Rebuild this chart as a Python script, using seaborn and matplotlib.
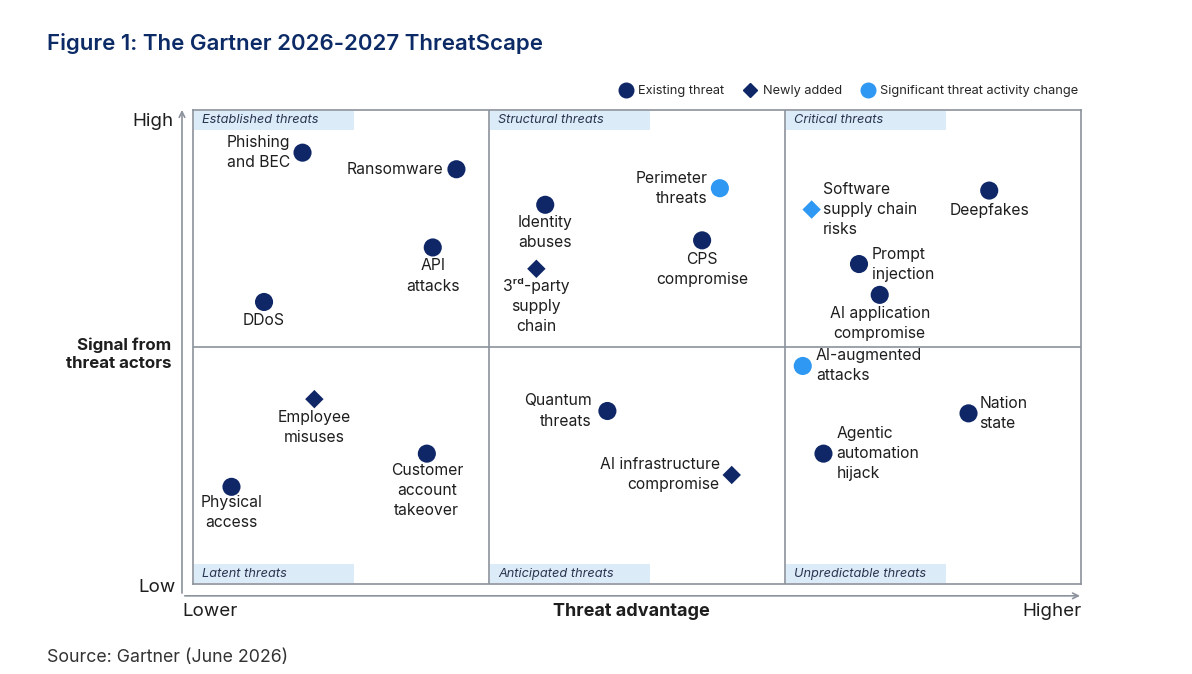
import numpy as np
import pandas as pd
import matplotlib
matplotlib.use("Agg")
import matplotlib.pyplot as plt
from matplotlib.lines import Line2D
from matplotlib.patches import Rectangle
import seaborn as sns

# data (x: threat advantage 0-3, y: signal 0-2)
threats = ["Phishing\nand BEC", "Ransomware", "API\nattacks", "DDoS",
           "Identity\nabuses", "3ʳᵈ-party\nsupply\nchain", "Perimeter\nthreats",
           "CPS\ncompromise", "Software\nsupply chain\nrisks", "Deepfakes",
           "Prompt\ninjection", "AI application\ncompromise", "Employee\nmisuses",
           "Customer\naccount\ntakeover", "Physical\naccess", "Quantum\nthreats",
           "AI infrastructure\ncompromise", "AI-augmented\nattacks", "Nation\nstate",
           "Agentic\nautomation\nhijack"]
threat_advantage = [0.37, 0.89, 0.81, 0.24, 1.19, 1.16, 1.78, 1.72, 2.09, 2.69,
                    2.25, 2.32, 0.41, 0.79, 0.13, 1.40, 1.82, 2.06, 2.62, 2.13]
signal = [1.82, 1.75, 1.42, 1.19, 1.60, 1.33, 1.67, 1.45, 1.58, 1.66,
          1.35, 1.22, 0.78, 0.55, 0.41, 0.73, 0.46, 0.92, 0.72, 0.55]
status = ["Existing threat"] * 5 + ["Newly added"] + ["Existing threat"] * 2 + \
         ["Newly added"] + ["Existing threat"] * 3 + ["Newly added"] + \
         ["Existing threat"] * 3 + ["Newly added"] + ["Existing threat"] * 3
activity = ["Stable"] * 6 + ["Significant threat activity change"] + ["Stable"] + \
           ["Significant threat activity change"] + ["Stable"] * 8 + \
           ["Significant threat activity change"] + ["Stable"] * 2

quadrants_top = ["Established threats", "Structural threats", "Critical threats"]
quadrants_bottom = ["Latent threats", "Anticipated threats", "Unpredictable threats"]

# label placement (offset in px, ha, va)
label_pos = [(-12, 0, "right", "center"), (-13, 0, "right", "center"),
             (0, -11, "center", "top"), (0, -11, "center", "top"),
             (0, -10, "center", "top"), (0, -9, "center", "top"),
             (-12, 0, "right", "center"), (0, -12, "center", "top"),
             (11, 0, "left", "center"), (0, -12, "center", "top"),
             (13, 0, "left", "center"), (0, -11, "center", "top"),
             (0, -11, "center", "top"), (0, -9, "center", "top"),
             (0, -8, "center", "top"), (-16, 0, "right", "center"),
             (-12, 0, "right", "center"), (13, 0, "left", "center"),
             (11, 0, "left", "center"), (13, 0, "left", "center")]

navy = "#0f2767"
light = "#2f98f2"
grid_col = "#8c929c"
band_col = "#dcebf8"
txt = "#1e1e1e"

df = pd.DataFrame({"threat": threats, "x": threat_advantage, "y": signal,
                   "status": status, "activity": activity})

sns.set_style("white")
plt.rcParams["font.family"] = ["Inter", "DejaVu Sans"]

fig = plt.figure(figsize=(11.92, 6.74), dpi=100)
W, H = 1192, 674
ax = fig.add_axes([193 / W, (H - 584) / H, 888 / W, 474 / H])

sns.scatterplot(data=df, x="x", y="y", hue="activity", style="status", size="status",
                palette={"Stable": navy, "Significant threat activity change": light},
                markers={"Existing threat": "o", "Newly added": "D"},
                sizes={"Existing threat": 170, "Newly added": 88},
                edgecolor="none", legend=False, ax=ax, zorder=3)

ax.set_xlim(0, 3)
ax.set_ylim(0, 2)
ax.set_xticks([])
ax.set_yticks([])
ax.set_xlabel("")
ax.set_ylabel("")
for sp in ax.spines.values():
    sp.set_color(grid_col)
    sp.set_linewidth(1.2)
for xv in [1, 2]:
    ax.axvline(xv, color=grid_col, lw=1.2, zorder=1)
ax.axhline(1, color=grid_col, lw=1.2, zorder=1)

# quadrant tags
bw, bh = 0.54, 0.084
for i, (t, b) in enumerate(zip(quadrants_top, quadrants_bottom)):
    ax.add_patch(Rectangle((i + 0.005, 2 - bh), bw, bh - 0.004, color=band_col, lw=0, zorder=0))
    ax.text(i + 0.03, 2 - bh / 2, t, style="italic", fontsize=9.2, color="#2a3550",
            ha="left", va="center")
    ax.add_patch(Rectangle((i + 0.005, 0.004), bw, bh - 0.004, color=band_col, lw=0, zorder=0))
    ax.text(i + 0.03, bh / 2, b, style="italic", fontsize=9.2, color="#2a3550",
            ha="left", va="center")

# point labels
for (name, xv, yv), (dx, dy, ha, va) in zip(zip(threats, threat_advantage, signal), label_pos):
    ax.annotate(name, (xv, yv), xytext=(dx * 0.72, dy * 0.72), textcoords="offset points",
                ha=ha, va=va, multialignment="center" if ha == "center" else ha,
                fontsize=11.3, color=txt, linespacing=1.42, zorder=4)

# axis arrows
ax.annotate("", xy=(-0.0124, 1.006), xytext=(-0.0124, -0.025), xycoords="axes fraction",
            arrowprops=dict(arrowstyle="->", color=grid_col, lw=1.2), annotation_clip=False)
ax.annotate("", xy=(1.002, -0.025), xytext=(-0.0124, -0.025), xycoords="axes fraction",
            arrowprops=dict(arrowstyle="->", color=grid_col, lw=1.2), annotation_clip=False)

fig.text(174 / W, 1 - 121 / H, "High", ha="right", va="center", fontsize=13.5, color=txt)
fig.text(176 / W, 1 - 587 / H, "Low", ha="right", va="center", fontsize=13.5, color=txt)
fig.text(171 / W, 1 - 354 / H, "Signal from\nthreat actors", ha="right", va="center",
         fontsize=12.2, fontweight="bold", color=txt, linespacing=1.25)
fig.text(182 / W, 1 - 612 / H, "Lower", ha="left", va="center", fontsize=13.5, color=txt)
fig.text(631 / W, 1 - 612 / H, "Threat advantage", ha="center", va="center", fontsize=13,
         fontweight="bold", color=txt)
fig.text(1082 / W, 1 - 612 / H, "Higher", ha="right", va="center", fontsize=13.5, color=txt)

fig.text(47 / W, 1 - 44 / H, "Figure 1: The Gartner 2026-2027 ThreatScape", ha="left",
         va="center", fontsize=16, fontweight="semibold", color="#0b2a66")
fig.text(47 / W, 1 - 658 / H, "Source: Gartner (June 2026)", ha="left", va="center",
         fontsize=12.8, color="#333333")

handles = [Line2D([], [], marker="o", ls="", color=navy, markersize=10.5),
           Line2D([], [], marker="D", ls="", color=navy, markersize=7),
           Line2D([], [], marker="o", ls="", color=light, markersize=10.5)]
fig.legend(handles, ["Existing threat", "Newly added", "Significant threat activity change"],
           loc="center right", bbox_to_anchor=(1090 / W, 1 - 91 / H), ncol=3, frameon=False,
           fontsize=9.2, handletextpad=0.4, columnspacing=1.4, handlelength=1.2)

fig.savefig("out.png", dpi=100, facecolor="white")
